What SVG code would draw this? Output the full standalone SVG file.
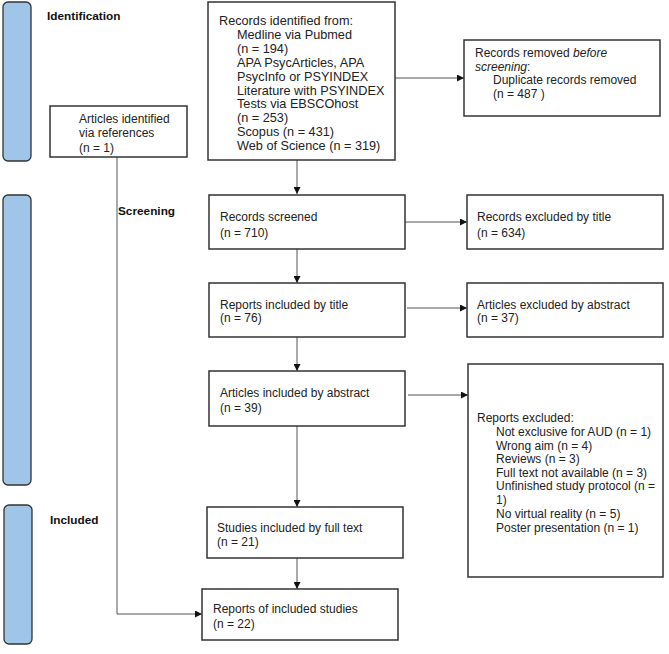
<svg xmlns="http://www.w3.org/2000/svg" width="669" height="654" viewBox="0 0 669 654">
<defs>
<style>
.box{fill:#fff;stroke:#333;stroke-width:1.5}
.bar{fill:#9fc5e8;stroke:#333;stroke-width:1.3}
.t{font-family:"Liberation Sans",Arial,sans-serif;font-size:12px;fill:#222}
.big{font-size:12.7px}
.h{font-family:"Liberation Sans",Arial,sans-serif;font-size:11.8px;font-weight:bold;fill:#111}
.c{fill:none;stroke:#555;stroke-width:1}
</style>
<marker id="ah" viewBox="0 0 10 10" refX="10" refY="5" markerWidth="7" markerHeight="7" markerUnits="userSpaceOnUse" orient="auto">
<path d="M0,0 L10,5 L0,10 z" fill="#111"/>
</marker>
</defs>
<rect width="669" height="654" fill="#fff"/>
<g id="phases">
<rect class="bar" x="3" y="2" width="28" height="159" rx="5"/>
<rect class="bar" x="3" y="195" width="28" height="290" rx="5"/>
<rect class="bar" x="4" y="505" width="28" height="139" rx="5"/>
<text class="h" x="47" y="20">Identification</text>
<text class="h" x="118" y="215">Screening</text>
<text class="h" x="50" y="524">Included</text>
</g>
<g id="connectors">
<line class="c" x1="297" y1="160" x2="297" y2="194" marker-end="url(#ah)"/>
<line class="c" x1="395" y1="78" x2="464" y2="78" marker-end="url(#ah)"/>
<line class="c" x1="405" y1="222" x2="467" y2="222" marker-end="url(#ah)"/>
<line class="c" x1="297" y1="249" x2="297" y2="283" marker-end="url(#ah)"/>
<line class="c" x1="407" y1="308" x2="467" y2="308" marker-end="url(#ah)"/>
<line class="c" x1="297" y1="337" x2="297" y2="371" marker-end="url(#ah)"/>
<line class="c" x1="408" y1="395" x2="468" y2="395" marker-end="url(#ah)"/>
<line class="c" x1="297" y1="426" x2="297" y2="507" marker-end="url(#ah)"/>
<line class="c" x1="297" y1="558" x2="297" y2="589" marker-end="url(#ah)"/>
<polyline class="c" points="117,157 117,614 202,614" marker-end="url(#ah)"/>
</g>
<g id="refs">
<rect class="box" x="50" y="106" width="137" height="51"/>
<text class="t" x="79" y="122.5">Articles identified</text>
<text class="t" x="79" y="137">via references</text>
<text class="t" x="79" y="151.5">(n = 1)</text>
</g>
<g id="identified">
<rect class="box" x="208" y="2" width="187" height="158"/>
<text class="t big" x="219" y="24.5">Records identified from:</text>
<text class="t big" x="237" y="39">Medline via Pubmed</text>
<text class="t big" x="237" y="52.5">(n = 194)</text>
<text class="t big" x="237" y="66.5">APA PsycArticles, APA</text>
<text class="t big" x="237" y="80.5">PsycInfo or PSYINDEX</text>
<text class="t big" x="237" y="94.5">Literature with PSYINDEX</text>
<text class="t big" x="237" y="107.5">Tests via EBSCOhost</text>
<text class="t big" x="237" y="121.5">(n = 253)</text>
<text class="t big" x="237" y="136">Scopus (n = 431)</text>
<text class="t big" x="237" y="149.5">Web of Science (n = 319)</text>
</g>
<g id="removed">
<rect class="box" x="464" y="40" width="196" height="76"/>
<text class="t" x="475" y="57">Records removed <tspan font-style="italic">before</tspan></text>
<text class="t" x="475" y="70.5"><tspan font-style="italic">screening</tspan>:</text>
<text class="t" x="493" y="84">Duplicate records removed</text>
<text class="t" x="493" y="97.5">(n = 487 )</text>
</g>
<g id="screened">
<rect class="box" x="209" y="195" width="196" height="54"/>
<text class="t" x="220" y="220.5">Records screened</text>
<text class="t" x="220" y="236.5">(n = 710)</text>
</g>
<g id="excl-title">
<rect class="box" x="467" y="195" width="196" height="54"/>
<text class="t" x="477" y="220.5">Records excluded by title</text>
<text class="t" x="477" y="236.5">(n = 634)</text>
</g>
<g id="incl-title">
<rect class="box" x="209" y="283" width="196" height="54"/>
<text class="t" x="220" y="308.5">Reports included by title</text>
<text class="t" x="220" y="322">(n = 76)</text>
</g>
<g id="excl-abstract">
<rect class="box" x="467" y="283" width="196" height="54"/>
<text class="t" x="477" y="308.5">Articles excluded by abstract</text>
<text class="t" x="477" y="322">(n = 37)</text>
</g>
<g id="incl-abstract">
<rect class="box" x="209" y="371" width="196" height="55"/>
<text class="t" x="220" y="396.5">Articles included by abstract</text>
<text class="t" x="220" y="411.5">(n = 39)</text>
</g>
<g id="excl-reports">
<rect class="box" x="468" y="364" width="195" height="213"/>
<text class="t" x="477" y="421.5">Reports excluded:</text>
<text class="t" x="496" y="435.5">Not exclusive for AUD (n = 1)</text>
<text class="t" x="496" y="449.5">Wrong aim (n = 4)</text>
<text class="t" x="496" y="462.5">Reviews (n = 3)</text>
<text class="t" x="496" y="476.5">Full text not available (n = 3)</text>
<text class="t" x="496" y="490">Unfinished study protocol (n =</text>
<text class="t" x="496" y="503.5">1)</text>
<text class="t" x="496" y="517.5">No virtual reality (n = 5)</text>
<text class="t" x="496" y="531.5">Poster presentation (n = 1)</text>
</g>
<g id="fulltext">
<rect class="box" x="207" y="507" width="196" height="51"/>
<text class="t" x="217" y="531.5">Studies included by full text</text>
<text class="t" x="217" y="545.5">(n = 21)</text>
</g>
<g id="final">
<rect class="box" x="202" y="589" width="196" height="51"/>
<text class="t" x="213" y="612.5">Reports of included studies</text>
<text class="t" x="213" y="627.5">(n = 22)</text>
</g>
</svg>
